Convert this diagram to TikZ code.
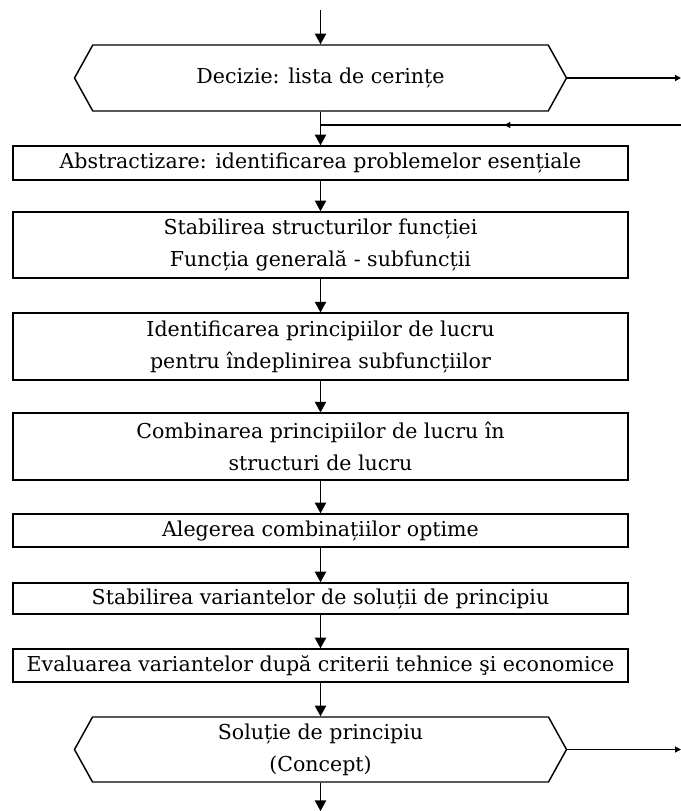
\documentclass[tikz,border=0pt]{standalone}
\usepackage{fontspec}
\setmainfont{DejaVu Serif}
\usetikzlibrary{arrows.meta,shapes.symbols,decorations.markings}

\tikzset{
  pas/.style={draw, line width=1.1pt, minimum width=461pt, inner sep=2pt, align=center,
    font=\fontsize{15.4}{24}\selectfont},
  decizie/.style={draw, line width=1.1pt, signal, signal to=east and west,
    signal pointer angle=122, minimum width=369pt, minimum height=49.5pt,
    inner sep=2pt, align=center, font=\fontsize{15.4}{24}\selectfont},
  sag/.style={-{Triangle[length=8pt,width=8.5pt]}, line width=1pt},
  sagmic/.style={-{Triangle[length=4.5pt,width=4.5pt]}, line width=1pt},
}

\begin{document}
\begin{tikzpicture}[x=0.75pt,y=-0.75pt]
  \useasboundingbox (0,0) rectangle (681,811);

  \node[decizie] (dec1) at (320.5,78) {Decizie: lista de cerințe};
  \node[pas, minimum height=25.5pt] (abs) at (320.5,163)
    {Abstractizare: identificarea problemelor esențiale};
  \node[pas, minimum height=49.5pt] (struct) at (320.5,245)
    {Stabilirea structurilor funcției\\Funcția generală - subfuncții};
  \node[pas, minimum height=50pt] (ident) at (320.5,346.5)
    {Identificarea principiilor de lucru\\pentru îndeplinirea subfuncțiilor};
  \node[pas, minimum height=50pt] (comb) at (320.5,446.5)
    {Combinarea principiilor de lucru în\\structuri de lucru};
  \node[pas, minimum height=24.75pt] (aleg) at (320.5,530.5)
    {Alegerea combinațiilor optime};
  \node[pas, minimum height=23.25pt] (var) at (320.5,598.5)
    {Stabilirea variantelor de soluții de principiu};
  \node[pas, minimum height=24.75pt] (eval) at (320.5,665.5)
    {Evaluarea variantelor după criterii tehnice şi economice};
  \node[decizie, minimum height=48.75pt] (sol) at (320.5,749.5)
    {Soluție de principiu\\(Concept)};

  \coordinate (intrare) at (320.5,10);
  \coordinate (iesire1) at (681,78);
  \coordinate (intoarcere) at (681,125);
  \coordinate (iesire2) at (681,749.5);
  \coordinate (final) at (320.5,811);

  % flux principal
  \draw[sag] (intrare) -- (dec1.north);
  \draw[sag] (dec1.south) -- (abs.north);
  \draw[sag] (abs) -- (struct);
  \draw[sag] (struct) -- (ident);
  \draw[sag] (ident) -- (comb);
  \draw[sag] (comb) -- (aleg);
  \draw[sag] (aleg) -- (var);
  \draw[sag] (var) -- (eval);
  \draw[sag] (eval) -- (sol.north);
  \draw[sag] (sol.south) -- (final);

  % iesiri si revenire
  \draw[sagmic] (dec1.east) -- (iesire1);
  \draw[sagmic] (sol.east) -- (iesire2);
  \draw[line width=1pt, postaction={decorate}, decoration={markings,
    mark=at position 0.49 with {\arrow{Triangle[length=4.5pt,width=4.5pt]}}}]
    (intoarcere) -- (intoarcere -| dec1.south);
\end{tikzpicture}
\end{document}
